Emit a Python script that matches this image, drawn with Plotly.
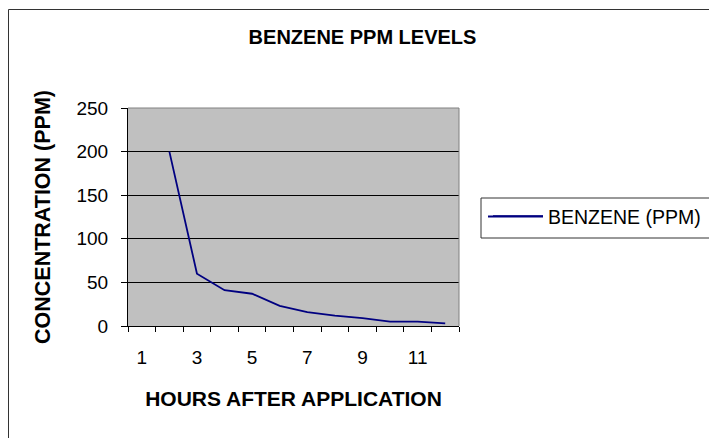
import plotly.graph_objects as go

hours = [1, 2, 3, 4, 5, 6, 7, 8, 9, 10, 11, 12]
benzene_ppm = [None, 200, 60, 41, 37, 23, 16, 12, 9, 5, 5, 3]
x_tick_vals = [1, 3, 5, 7, 9, 11]
x_tick_text = ["1", "3", "5", "7", "9", "11"]
y_tick_vals = [0, 50, 100, 150, 200, 250]

W, H = 709, 438
L, R, T, B = 128, 459, 108, 326
pw, ph = R - L, B - T


def px(x):
    return (x - L) / pw


def py(y):
    return (B - y) / ph


FONT = "Liberation Sans, Arial, sans-serif"

fig = go.Figure()
fig.add_trace(go.Scatter(
    x=hours, y=benzene_ppm, mode="lines", name="BENZENE (PPM)",
    line=dict(color="#000080", width=1.8), connectgaps=False,
))

fig.update_layout(
    width=W, height=H,
    margin=dict(l=L, r=W - R, t=T, b=H - B, pad=0, autoexpand=False),
    paper_bgcolor="white", plot_bgcolor="#C0C0C0",
    font=dict(family=FONT, size=19, color="black"),
    title=dict(text="<b>BENZENE PPM LEVELS</b>", x=362.5 / W, xanchor="center",
               y=1 - 36.5 / H, yanchor="middle", font=dict(size=20, family=FONT)),
    showlegend=True,
    legend=dict(xref="container", yref="container",
                x=488 / W, y=1 - 197 / H, xanchor="left", yanchor="top",
                bgcolor="rgba(0,0,0,0)", borderwidth=0, font=dict(size=19.5),
                itemwidth=50),
    xaxis=dict(range=[0.5, 12.5], tickmode="array", tickvals=x_tick_vals,
               ticktext=x_tick_text, ticks="", showgrid=False, zeroline=False,
               showline=True, linecolor="black", linewidth=1,
               ticklabelstandoff=14,
               minor=dict(tickmode="array", tickvals=[h - 0.5 for h in hours] + [12.5],
                          ticks="outside", ticklen=5, tickcolor="black", showgrid=False),
               title=dict(text="<b>HOURS AFTER APPLICATION</b>", standoff=24,
                          font=dict(size=21))),
    yaxis=dict(range=[0, 250], tickmode="array", tickvals=y_tick_vals,
               ticks="outside", ticklen=6, tickcolor="black",
               showgrid=True, gridcolor="black", gridwidth=1, zeroline=False,
               showline=True, linecolor="black", linewidth=1,
               ticklabelstandoff=9,
               title=dict(text="<b>CONCENTRATION (PPM)</b>", standoff=19,
                          font=dict(size=21.5))),
    shapes=[
        # plot-area top and right border
        dict(type="line", xref="paper", yref="paper", x0=0, x1=1, y0=1, y1=1,
             line=dict(color="#808080", width=1)),
        dict(type="line", xref="paper", yref="paper", x0=1, x1=1, y0=0, y1=1,
             line=dict(color="#808080", width=1)),
        # chart-area outer border
        dict(type="rect", xref="paper", yref="paper",
             x0=px(8.5), x1=px(730), y0=py(9.5), y1=py(460),
             line=dict(color="#333333", width=1), fillcolor="rgba(0,0,0,0)"),
        # legend box
        dict(type="rect", xref="paper", yref="paper",
             x0=px(481), x1=px(730), y0=py(198), y1=py(238),
             line=dict(color="#333333", width=1), fillcolor="rgba(0,0,0,0)"),
        # legend key line (Excel draws a longer sample line)
        dict(type="line", xref="paper", yref="paper",
             x0=px(488), x1=px(543), y0=py(216.5), y1=py(216.5),
             line=dict(color="#000080", width=1.8)),
    ],
)

fig.write_html("out.html", config={"displayModeBar": False},
               post_script="document.body.style.margin='0px';")
